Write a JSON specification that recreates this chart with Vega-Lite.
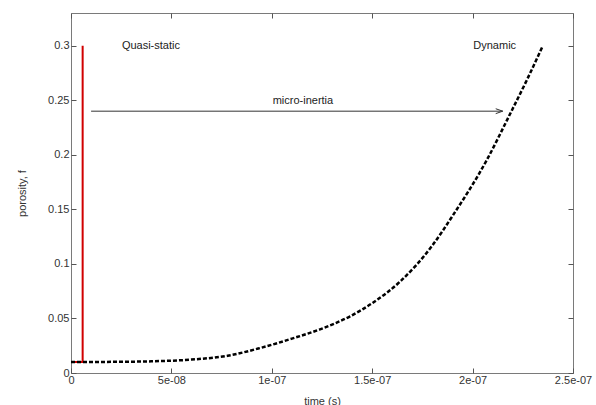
{
  "$schema": "https://vega.github.io/schema/vega-lite/v6.json",
  "width": 502,
  "height": 360,
  "autosize": {"type": "none"},
  "padding": {"left": 71, "top": 13, "right": 23, "bottom": 32},
  "background": "white",
  "config": {
    "view": {"stroke": "#7a7a7a", "strokeWidth": 1},
    "font": "Liberation Sans",
    "axis": {
      "grid": false,
      "domain": false,
      "tickColor": "#555",
      "tickSize": -5,
      "labelFlush": false,
      "labelFontSize": 11,
      "labelColor": "#333",
      "labelFont": "Liberation Sans",
      "titleFont": "Liberation Sans",
      "titleFontSize": 11,
      "titleFontWeight": "normal",
      "titleColor": "#333"
    }
  },
  "datasets": {
    "curve": [
      {"t": 0, "f": 0.01},
      {"t": 2e-8, "f": 0.0102},
      {"t": 4e-8, "f": 0.0107},
      {"t": 6e-8, "f": 0.0123},
      {"t": 7.8e-8, "f": 0.0158},
      {"t": 9.4e-8, "f": 0.0228},
      {"t": 1.1e-7, "f": 0.0315},
      {"t": 1.24e-7, "f": 0.04},
      {"t": 1.39e-7, "f": 0.052},
      {"t": 1.5e-7, "f": 0.064},
      {"t": 1.64e-7, "f": 0.084},
      {"t": 1.8e-7, "f": 0.117},
      {"t": 1.9e-7, "f": 0.144},
      {"t": 2.07e-7, "f": 0.195},
      {"t": 2.18e-7, "f": 0.235},
      {"t": 2.27e-7, "f": 0.2685},
      {"t": 2.35e-7, "f": 0.3}
    ],
    "red": [
      {"i": 0, "t": 0, "f": 0.01},
      {"i": 1, "t": 5.8e-9, "f": 0.01},
      {"i": 2, "t": 5.8e-9, "f": 0.3}
    ],
    "arrow": [
      {"t1": 1e-8, "t2": 2.15e-7, "f": 0.24}
    ],
    "labels": [
      {"t": 3.98e-8, "f": 0.3, "text": "Quasi-static"},
      {"t": 2.11e-7, "f": 0.3, "text": "Dynamic"},
      {"t": 1.155e-7, "f": 0.2494, "text": "micro-inertia"}
    ]
  },
  "layer": [
    {
      "data": {"name": "red"},
      "mark": {"type": "line", "color": "#d10000", "strokeWidth": 2},
      "encoding": {
        "x": {
          "field": "t", "type": "quantitative",
          "scale": {"domain": [0, 2.5e-7], "nice": false, "zero": false},
          "axis": {
            "orient": "bottom",
            "title": "time (s)",
            "values": [0, 5e-8, 1e-7, 1.5e-7, 2e-7, 2.5e-7],
            "labelExpr": "['0','5e-08','1e-07','1.5e-07','2e-07','2.5e-07'][round(datum.value/5e-8)]",
            "labelPadding": 6,
            "titleBaseline": "alphabetic",
            "titleY": 31
          }
        },
        "y": {
          "field": "f", "type": "quantitative",
          "scale": {"domain": [0, 0.33], "nice": false, "zero": false},
          "axis": {
            "orient": "left",
            "title": "porosity, f",
            "values": [0, 0.05, 0.1, 0.15, 0.2, 0.25, 0.3],
            "format": "~g",
            "labelPadding": 7,
            "titleX": -49,
            "titleY": 180,
            "titleBaseline": "middle"
          }
        },
        "order": {"field": "i", "type": "quantitative"}
      }
    },
    {
      "data": {"name": "curve"},
      "mark": {"type": "line", "color": "#000", "strokeWidth": 2.5, "strokeDash": [4, 2], "interpolate": "monotone"},
      "encoding": {
        "x": {
          "field": "t", "type": "quantitative",
          "axis": {
            "orient": "top",
            "title": null,
            "labels": false,
            "values": [0, 5e-8, 1e-7, 1.5e-7, 2e-7, 2.5e-7]
          }
        },
        "y": {
          "field": "f", "type": "quantitative",
          "axis": {
            "orient": "right",
            "title": null,
            "labels": false,
            "values": [0, 0.05, 0.1, 0.15, 0.2, 0.25, 0.3]
          }
        }
      }
    },
    {
      "data": {"name": "arrow"},
      "mark": {"type": "rule", "color": "#333", "strokeWidth": 1},
      "encoding": {
        "x": {"field": "t1", "type": "quantitative", "axis": null},
        "x2": {"field": "t2"},
        "y": {"field": "f", "type": "quantitative", "axis": null}
      }
    },
    {
      "data": {"name": "arrow"},
      "mark": {"type": "point", "shape": "M-1,-0.35L0,0L-1,0.35", "filled": false, "color": "#333", "strokeWidth": 1, "size": 196, "opacity": 1},
      "encoding": {
        "x": {"field": "t2", "type": "quantitative", "axis": null},
        "y": {"field": "f", "type": "quantitative", "axis": null}
      }
    },
    {
      "data": {"name": "labels"},
      "mark": {"type": "text", "fontSize": 11, "color": "#222", "align": "center", "baseline": "middle", "font": "Liberation Sans"},
      "encoding": {
        "x": {"field": "t", "type": "quantitative", "axis": null},
        "y": {"field": "f", "type": "quantitative", "axis": null},
        "text": {"field": "text"}
      }
    }
  ],
  "resolve": {"axis": {"x": "independent", "y": "independent"}}
}
